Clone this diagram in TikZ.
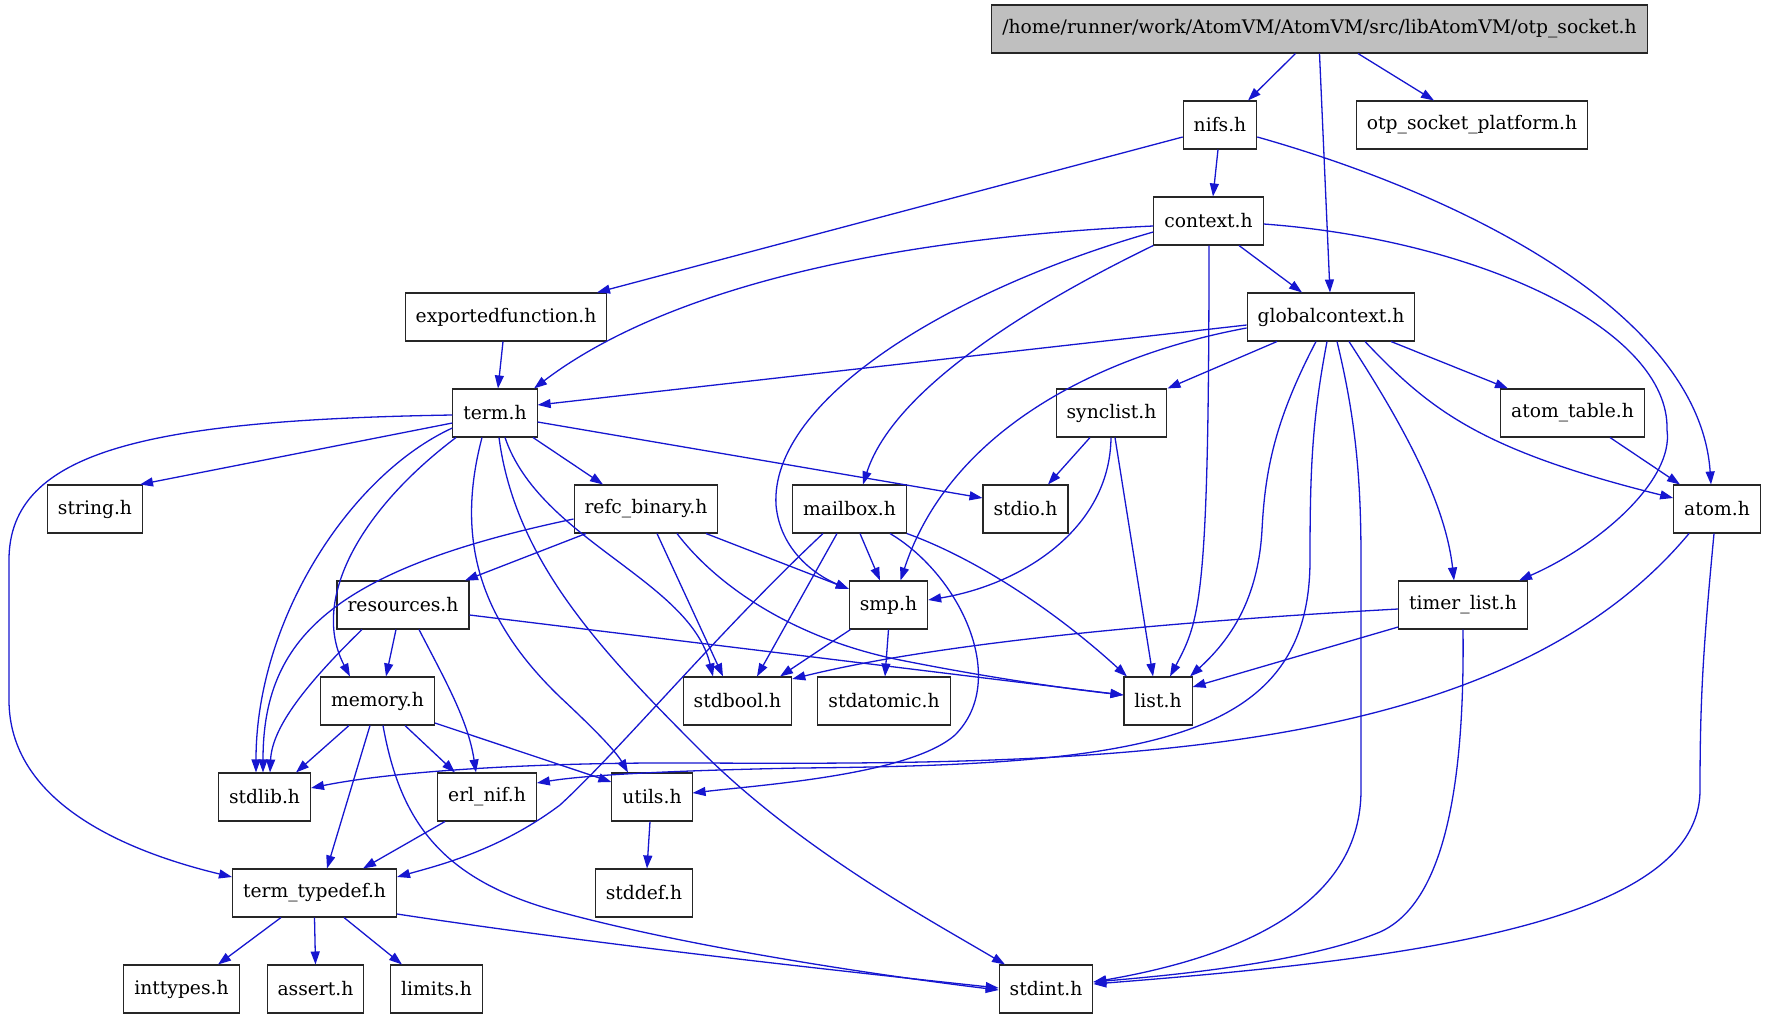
\documentclass[tikz,border=0pt]{standalone}
\usepackage{fontspec}
\setmainfont{DejaVu Serif}
\usepackage{xcolor}
\usepackage{tikz}
\usetikzlibrary{arrows.meta}
\definecolor{edgeblue}{RGB}{22,22,208}
\definecolor{rootgray}{RGB}{191,191,191}

\begin{document}
\begin{tikzpicture}[x=1pt,y=-1pt]
\tikzstyle{every node}+=[inner sep=0pt]
\tikzstyle{hdr}=[draw=black!85,line width=1.05pt,fill=white,minimum height=48pt,inner xsep=10.5pt,font=\fontsize{18.7pt}{22pt}\selectfont]
\tikzstyle{inc}=[edgeblue,line width=1.3pt,-{Triangle[length=13pt,width=9pt]}]
\useasboundingbox (0,0) rectangle (1767,1019);
% headers
\node [hdr,fill=rootgray] (root) at (1319.5,29) {/home/runner/work/AtomVM/AtomVM/src/libAtomVM/otp\_socket.h};
\node [hdr] (nifs) at (1220,125) {nifs.h};
\node [hdr] (otpplat) at (1472,125) {otp\_socket\_platform.h};
\node [hdr] (context) at (1208.5,221) {context.h};
\node [hdr] (expfun) at (506,317) {exportedfunction.h};
\node [hdr] (globctx) at (1331,317) {globalcontext.h};
\node [hdr] (term) at (495,413) {term.h};
\node [hdr] (synclist) at (1111.5,413) {synclist.h};
\node [hdr] (atomtbl) at (1572.5,413) {atom\_table.h};
\node [hdr] (stringh) at (95,509) {string.h};
\node [hdr] (refcbin) at (646,509) {refc\_binary.h};
\node [hdr] (mailbox) at (849.5,509) {mailbox.h};
\node [hdr] (stdio) at (1025.5,509) {stdio.h};
\node [hdr] (atom) at (1717,509) {atom.h};
\node [hdr] (resources) at (403,605) {resources.h};
\node [hdr] (smp) at (888.5,605) {smp.h};
\node [hdr] (timerlist) at (1463,605) {timer\_list.h};
\node [hdr] (memory) at (377.5,701) {memory.h};
\node [hdr] (stdbool) at (737.5,701) {stdbool.h};
\node [hdr] (stdatomic) at (884,701) {stdatomic.h};
\node [hdr] (list) at (1158,701) {list.h};
\node [hdr] (stdlib) at (264.5,797) {stdlib.h};
\node [hdr] (erlnif) at (487,797) {erl\_nif.h};
\node [hdr] (utils) at (652,797) {utils.h};
\node [hdr] (termtd) at (314.5,893) {term\_typedef.h};
\node [hdr] (stddef) at (644,893) {stddef.h};
\node [hdr] (inttypes) at (181.5,989) {inttypes.h};
\node [hdr] (assert) at (315.5,989) {assert.h};
\node [hdr] (limits) at (436.5,989) {limits.h};
\node [hdr] (stdint) at (1046,989) {stdint.h};
% otp_socket.h
\draw [inc] ([xshift=-24pt]root.south) -- ([xshift=28pt]nifs.north);
\draw [inc] (root.south) -- ([xshift=-1pt]globctx.north);
\draw [inc] ([xshift=38.5pt]root.south) -- ([xshift=-38pt]otpplat.north);
% nifs.h
\draw [inc] ([xshift=-2pt]nifs.south) -- ([xshift=4.5pt]context.north);
\draw [inc] ([yshift=-12pt]nifs.west) -- ([xshift=91pt]expfun.north);
\draw [inc] ([yshift=-12pt]nifs.east) .. controls (1480,200) and (1700,320) .. ([xshift=-6pt]atom.north);
% context.h
\draw [inc] ([xshift=30.5pt]context.south) -- ([xshift=-29pt]globctx.north);
\draw [inc] ([yshift=-5pt]context.west) .. controls (850,240) and (650,300) .. ([xshift=39pt]term.north);
\draw [inc] ([xshift=0.5pt]context.south) .. controls (1209,600) and (1200,620) .. ([xshift=12pt]list.north);
\draw [inc] (context.south west) .. controls (1000,320) and (890,400) .. ([xshift=13.5pt]mailbox.north);
\draw [inc] ([yshift=-11pt]context.west) .. controls (950,290) and (770,400) .. (776,505) .. controls (780,550) and (815,575) .. ([yshift=16pt]smp.west);
\draw [inc] ([yshift=-3pt]context.east) .. controls (1480,240) and (1670,330) .. (1667,430) .. controls (1674,480) and (1600,545) .. ([xshift=56pt]timerlist.north);
% exportedfunction.h
\draw [inc] ([xshift=-3pt]expfun.south) -- ([xshift=3pt]term.north);
% globalcontext.h
\draw [inc] ([yshift=-8pt]globctx.west) -- ([yshift=8pt]term.east);
\draw [inc] ([xshift=-54pt]globctx.south) -- ([xshift=56pt]synclist.north);
\draw [inc] ([xshift=60pt]globctx.south) -- ([xshift=-64.5pt]atomtbl.north);
\draw [inc] ([xshift=34pt]globctx.south) .. controls (1430,410) and (1480,450) .. ([yshift=11pt]atom.west);
\draw [inc] ([xshift=18pt]globctx.south) .. controls (1400,420) and (1445,500) .. ([xshift=-9pt]timerlist.north);
\draw [inc] ([xshift=-15pt]globctx.south) .. controls (1275,420) and (1265,470) .. (1262,530) .. controls (1258,600) and (1230,640) .. ([xshift=32pt]list.north);
\draw [inc] ([yshift=-11pt]globctx.west) .. controls (1100,355) and (950,430) .. ([xshift=12pt]smp.north);
\draw [inc] ([xshift=6pt]globctx.south) .. controls (1356,420) and (1361,480) .. (1361,560) -- (1361,790) .. controls (1361,900) and (1250,955) .. ([yshift=7pt]stdint.east);
\draw [inc] ([xshift=-4pt]globctx.south) .. controls (1312,420) and (1310,470) .. (1310,560) .. controls (1310,740) and (1150,765) .. (800,768) .. controls (650,771) and (580,776) .. ([yshift=14pt]erlnif.east);
% synclist.h, atom_table.h
\draw [inc] ([xshift=-21.5pt]synclist.south) -- ([xshift=22.5pt]stdio.north);
\draw [inc] ([xshift=-0.5pt]synclist.south) .. controls (1110,530) and (1020,585) .. ([yshift=5pt]smp.east);
\draw [inc] ([xshift=3.5pt]synclist.south) -- ([xshift=-5pt]list.north);
\draw [inc] ([xshift=37.5pt]atomtbl.south) -- ([xshift=-37pt]atom.north);
% term.h
\draw [inc] ([yshift=-10pt]term.west) -- ([xshift=45pt]stringh.north);
\draw [inc] ([yshift=-2pt]term.west) .. controls (150,420) and (9,450) .. (9,560) -- (9,700) .. controls (9,800) and (120,850) .. ([yshift=16pt]termtd.west);
\draw [inc] ([yshift=-15pt]term.west) .. controls (350,475) and (256,620) .. ([xshift=-8.5pt]stdlib.north);
\draw [inc] ([xshift=-39pt]term.south) .. controls (360,510) and (310,600) .. ([xshift=-27.5pt]memory.north);
\draw [inc] ([xshift=-13pt]term.south) .. controls (455,540) and (480,620) .. (560,697) .. controls (590,725) and (615,750) .. ([xshift=-24pt]utils.north);
\draw [inc] ([xshift=4pt]term.south) .. controls (515,560) and (600,650) .. (700,750) .. controls (800,850) and (930,920) .. ([xshift=-41pt]stdint.north);
\draw [inc] ([xshift=10pt]term.south) .. controls (540,540) and (690,580) .. ([xshift=-24.5pt]stdbool.north);
\draw [inc] ([xshift=38pt]term.south) -- ([xshift=-43pt]refcbin.north);
\draw [inc] ([yshift=-9pt]term.east) -- ([yshift=11pt]stdio.west);
% refc_binary.h
\draw [inc] ([xshift=-60pt]refcbin.south) -- ([xshift=62pt]resources.north);
\draw [inc] ([yshift=-10pt]refcbin.west) .. controls (330,570) and (263,640) .. ([xshift=-1.5pt]stdlib.north);
\draw [inc] ([xshift=11pt]refcbin.south) -- ([xshift=-14.5pt]stdbool.north);
\draw [inc] ([xshift=31pt]refcbin.south) .. controls (720,590) and (800,640) .. (900,660) .. controls (980,676) and (1060,688) .. ([yshift=6pt]list.west);
\draw [inc] ([xshift=60pt]refcbin.south) -- ([yshift=16pt]smp.west);
% mailbox.h
\draw [inc] ([xshift=10.5pt]mailbox.south) -- ([xshift=-8.5pt]smp.north);
\draw [inc] ([xshift=-12.5pt]mailbox.south) -- ([xshift=19.5pt]stdbool.north);
\draw [inc] ([xshift=-26.5pt]mailbox.south) .. controls (720,630) and (620,750) .. (560,805) .. controls (500,850) and (440,865) .. ([yshift=16pt]termtd.east);
\draw [inc] (mailbox.south east) .. controls (980,560) and (1060,615) .. ([xshift=-31pt]list.north);
\draw [inc] ([xshift=40.5pt]mailbox.south) .. controls (960,575) and (1010,680) .. (955,735) .. controls (910,775) and (760,785) .. ([yshift=4pt]utils.east);
% resources.h
\draw [inc] ([xshift=-7pt]resources.south) -- ([xshift=8.5pt]memory.north);
\draw [inc] ([xshift=-41pt]resources.south) .. controls (300,690) and (272,730) .. ([xshift=5.5pt]stdlib.north);
\draw [inc] ([xshift=16pt]resources.south) .. controls (445,680) and (468,720) .. ([xshift=-11pt]erlnif.north);
\draw [inc] ([yshift=-10pt]resources.east) -- ([yshift=6pt]list.west);
% smp.h, timer_list.h, atom.h
\draw [inc] ([xshift=-38pt]smp.south) -- ([xshift=42.5pt]stdbool.north);
\draw [inc] (smp.south) -- ([xshift=1pt]stdatomic.north);
\draw [inc] ([yshift=-22pt]timerlist.west) -- ([yshift=14pt]list.east);
\draw [inc] ([yshift=-4pt]timerlist.west) .. controls (1200,620) and (950,640) .. ([yshift=22pt]stdbool.east);
\draw [inc] (timerlist.south) .. controls (1465,800) and (1440,905) .. (1380,932) .. controls (1300,965) and (1150,977) .. ([yshift=7pt]stdint.east);
\draw [inc] ([xshift=-28pt]atom.south) .. controls (1500,760) and (1100,765) .. (700,763) .. controls (550,762) and (400,770) .. ([yshift=9pt]stdlib.east);
\draw [inc] ([xshift=-3pt]atom.south) .. controls (1703,650) and (1700,700) .. (1700,790) .. controls (1700,925) and (1400,960) .. ([yshift=5pt]stdint.east);
% memory.h
\draw [inc] ([xshift=-28.5pt]memory.south) -- ([xshift=31.5pt]stdlib.north);
\draw [inc] ([xshift=-7.5pt]memory.south) -- ([xshift=12.5pt]termtd.north);
\draw [inc] ([xshift=27.5pt]memory.south) -- ([xshift=-32pt]erlnif.north);
\draw [inc] ([yshift=-22pt]memory.east) -- ([yshift=15pt]utils.west);
\draw [inc] ([xshift=5.5pt]memory.south) .. controls (400,820) and (440,880) .. (560,912) .. controls (700,950) and (900,978) .. ([yshift=-1pt]stdint.west);
% erl_nif.h, utils.h, term_typedef.h
\draw [inc] ([xshift=-42pt]erlnif.south) -- ([xshift=48.5pt]termtd.north);
\draw [inc] ([xshift=-2pt]utils.south) -- ([xshift=3pt]stddef.north);
\draw [inc] ([xshift=-33.5pt]termtd.south) -- ([xshift=36.5pt]inttypes.north);
\draw [inc] (termtd.south) -- (assert.north);
\draw [inc] ([xshift=29.5pt]termtd.south) -- ([xshift=-34.5pt]limits.north);
\draw [inc] ([yshift=-21pt]termtd.east) .. controls (600,945) and (850,972) .. ([yshift=1pt]stdint.west);

\end{tikzpicture}
\end{document}
